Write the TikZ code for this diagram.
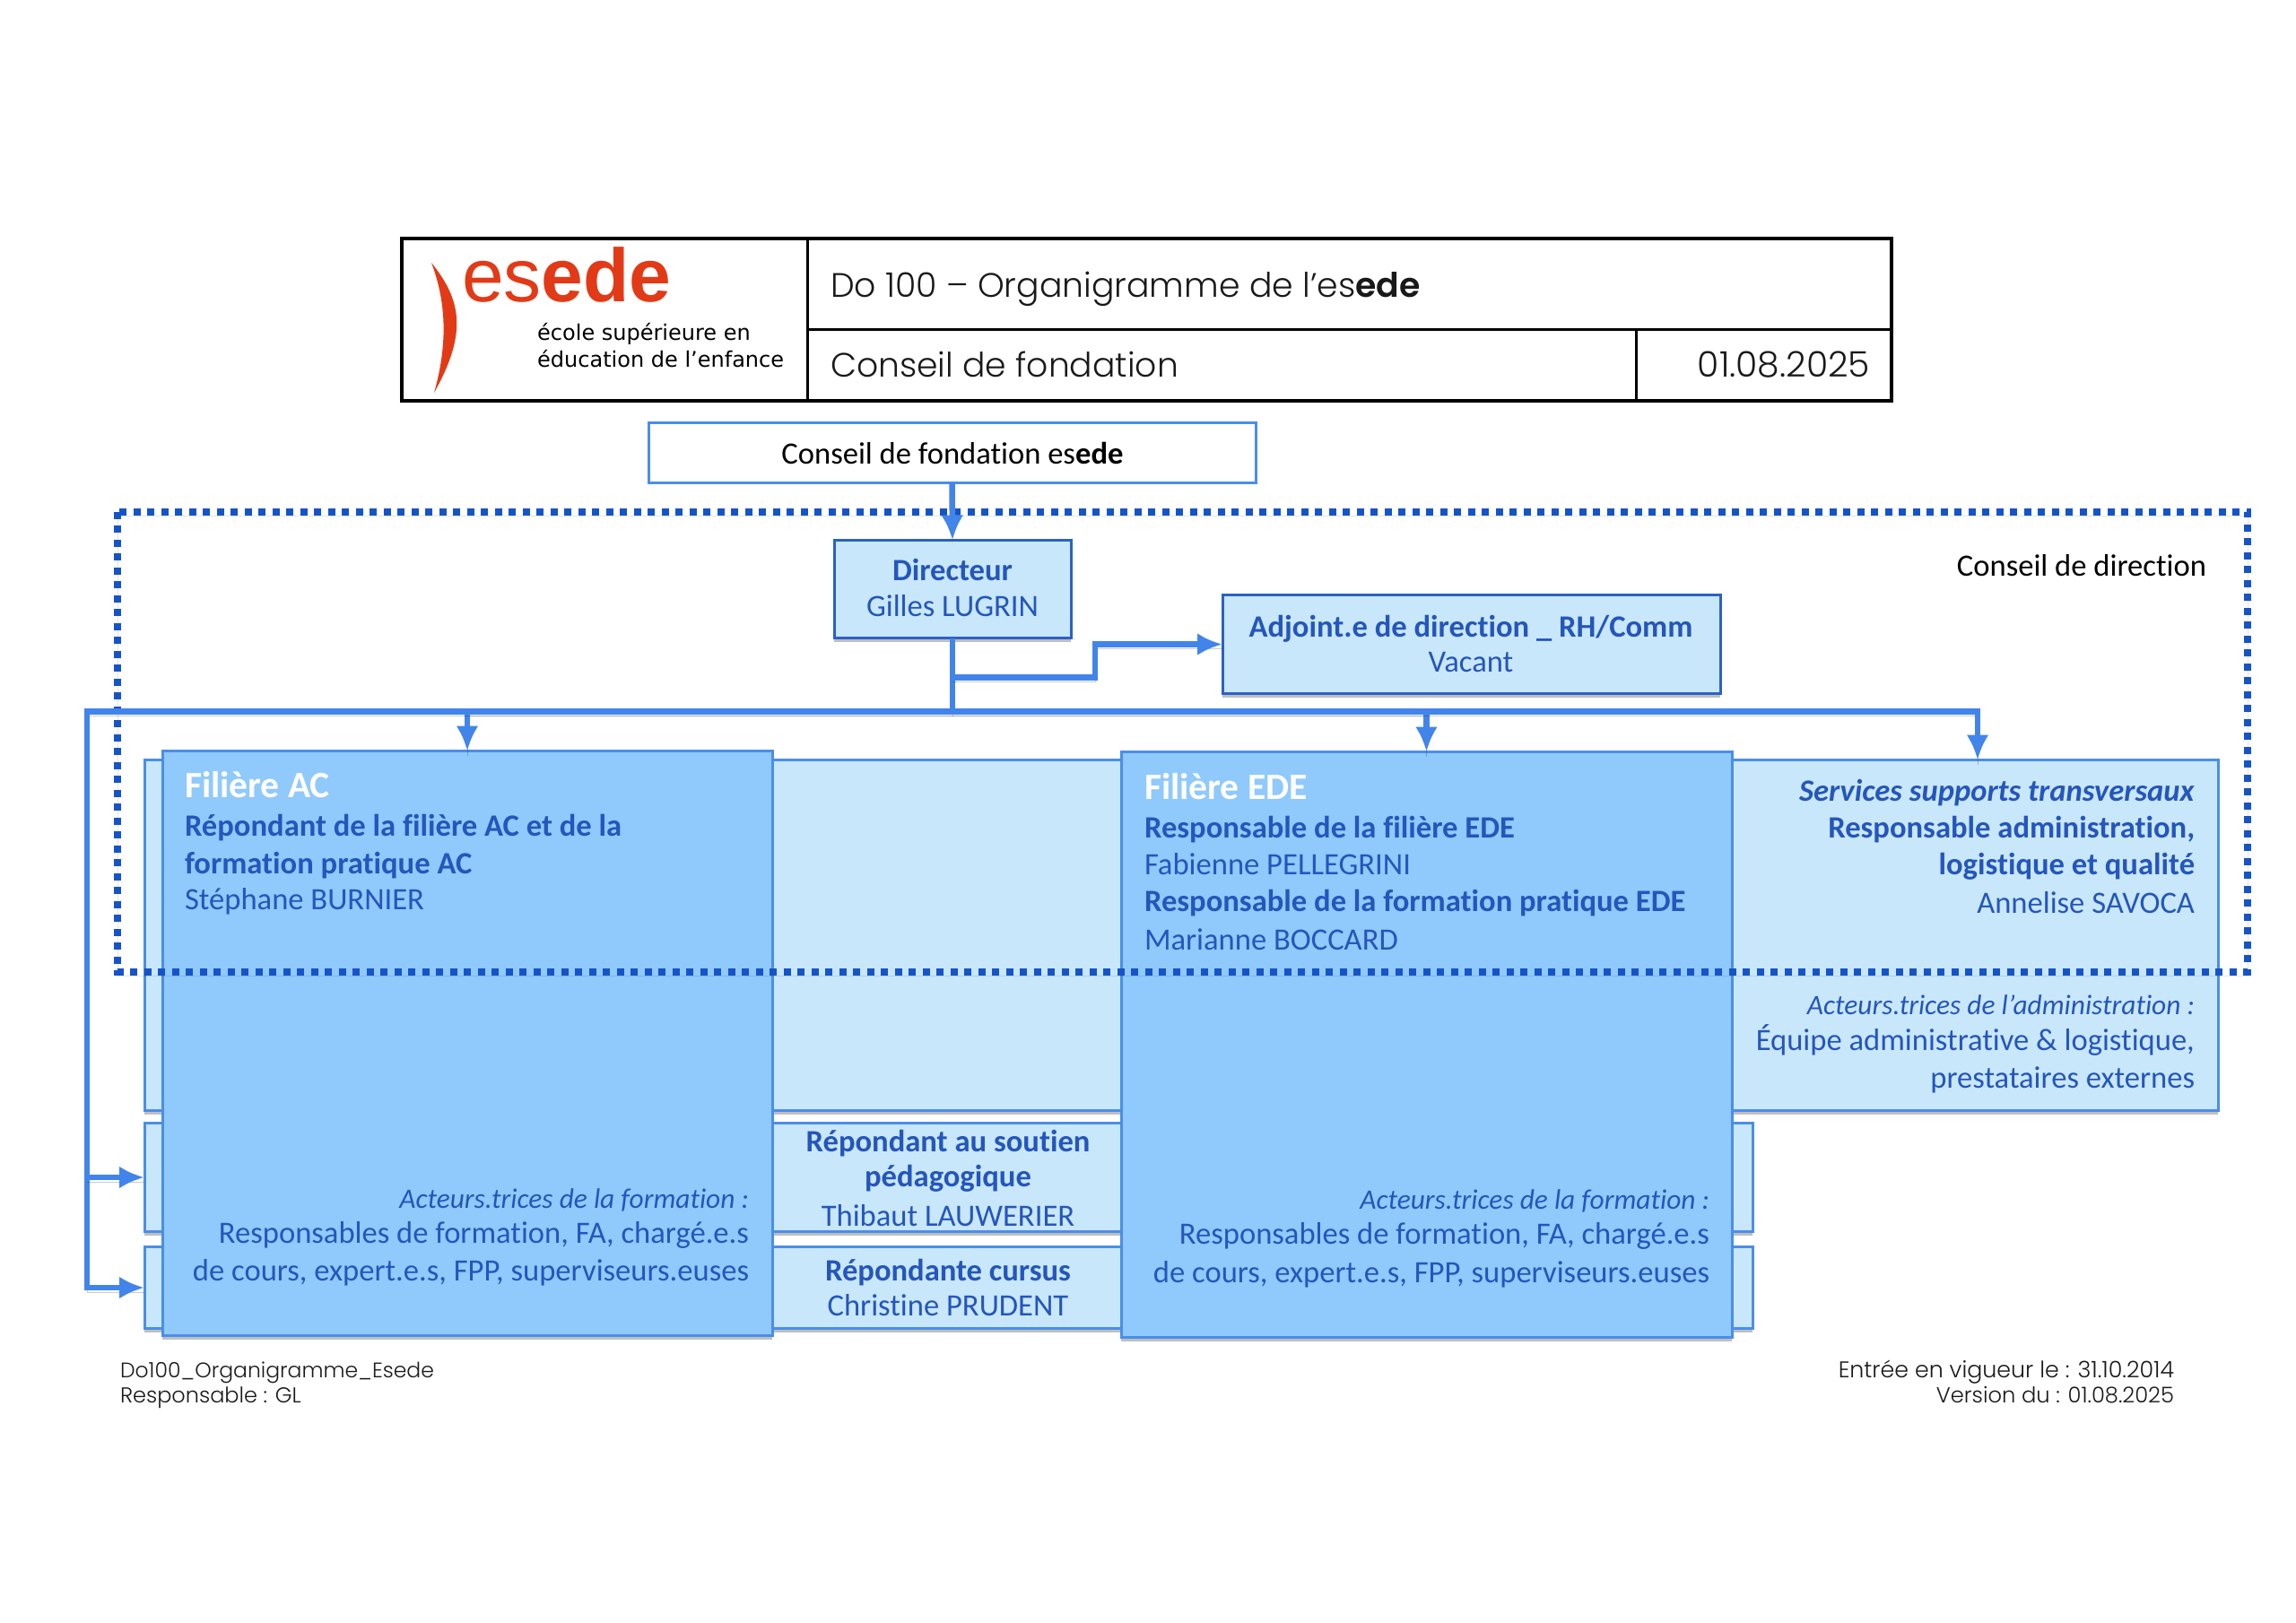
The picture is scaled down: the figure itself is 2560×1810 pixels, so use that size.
\documentclass[tikz,border=0pt]{standalone}
\usepackage{fontspec}
\usetikzlibrary{arrows.meta,shadows}
\setmainfont{Carlito}[Ligatures=NoCommon]
\newfontfamily\geo{Poppins Light}[BoldFont={Poppins SemiBold}]
\newfontfamily\logofont{Liberation Sans}
\newfontfamily\logosub{DejaVu Sans}
\definecolor{linkblue}{HTML}{4285EA}
\definecolor{edgeblue}{HTML}{4A8EEA}
\definecolor{darkedge}{HTML}{2A62C4}
\definecolor{dotblue}{HTML}{1554C8}
\definecolor{paleblue}{HTML}{C9E7FB}
\definecolor{midblue}{HTML}{90C9FB}
\definecolor{inkblue}{HTML}{2456BC}
\definecolor{logored}{HTML}{E23A17}
\newcommand\bodysize{\fontsize{34.6}{40}\selectfont}
\newcommand\notesize{\fontsize{31.4}{37}\selectfont}
\tikzset{
  softshadow/.style={drop shadow={shadow xshift=0pt,shadow yshift=-4pt,opacity=.25,fill=black}},
  backbox/.style={draw=edgeblue,line width=3pt,fill=paleblue,inner sep=0,outer sep=0,anchor=north west,softshadow},
  frontbox/.style={draw=edgeblue,line width=3pt,fill=midblue,inner sep=0,outer sep=0,anchor=north west,softshadow},
  rolebox/.style={draw=darkedge,line width=3pt,fill=paleblue,inner sep=0,outer sep=0,anchor=north west,softshadow},
  blackframe/.style={draw=black,line width=4.5pt},
  framerule/.style={draw=black,line width=3pt},
  txt/.style={inner sep=0,outer sep=0,font=\bodysize,text=inkblue},
  leftline/.style={txt,anchor=base west},
  rightline/.style={txt,anchor=base east},
  noteline/.style={txt,anchor=base east,font=\notesize\itshape},
  midline/.style={txt,anchor=base},
  headline/.style={inner sep=0,outer sep=0,anchor=base west,font=\fontsize{41.5}{46}\selectfont\bfseries,text=white},
  geotext/.style={inner sep=0,outer sep=0,text=black!90},
  link/.style={draw=linkblue,line width=6.5pt,preaction={draw=black,draw opacity=.2,arrows=-,transform canvas={yshift=-5pt}}},
  tip/.style={-{Latex[length=28pt,width=25pt]}},
}
\begin{document}
\begin{tikzpicture}[x=1pt,y=-1pt]
\useasboundingbox (0,0) rectangle (2560,1810);
\fill[white] (0,0) rectangle (2560,1810);
% title block
\coordinate (tl) at (448,266);
\coordinate (br) at (2109,447);
\draw[framerule] (900,266) coordinate (va) -- (900,447) coordinate (vb);
\draw[framerule] (900,367) coordinate (ha) -- (2109,367) coordinate (hb);
\draw[framerule] (1824,367) coordinate (vc) -- (1824,447) coordinate (vd);
\draw[blackframe] (tl) rectangle (br);
% logo
\fill[logored] (481,293) .. controls (515,335) and (521,372) .. (484,438) .. controls (500,382) and (497,335) .. cycle;
\node[inner sep=0,anchor=base west,text=logored,font=\logofont\fontsize{84}{90}\selectfont] (logo) at (515,336) {es\textbf{ede}};
\node[inner sep=0,anchor=base west,text=black,font=\logosub\fontsize{24}{26}\selectfont] (logoa) at (599,379) {école supérieure en};
\node[inner sep=0,anchor=base west,text=black,font=\logosub\fontsize{24}{26}\selectfont] (logob) at (599,409) {éducation de l’enfance};
\node[geotext,anchor=base west,font=\geo\fontsize{37.8}{44}\selectfont] (title) at (926,331) {Do 100 – Organigramme de l’es\textbf{ede}};
\node[geotext,anchor=base west,font=\geo\fontsize{37.7}{44}\selectfont] (sub) at (926,420) {Conseil de fondation};
\node[geotext,anchor=base east,font=\geo\fontsize{39.3}{44}\selectfont] (date) at (2085,420) {01.08.2025};
\begin{scope}[yshift=-1.5pt]
% boxes
\node[backbox,minimum width=2312pt,minimum height=391pt] (back) at (161,846) {};
\node[backbox,minimum width=1793pt,minimum height=121pt] (row2) at (161,1251) {};
\node[backbox,minimum width=1793pt,minimum height=91pt] (row3) at (161,1389) {};
\node[frontbox,minimum width=680pt,minimum height=652pt] (ac) at (181,836) {};
\node[frontbox,minimum width=681pt,minimum height=653pt] (ede) at (1250,837) {};
\node[draw=edgeblue,line width=3pt,fill=white,inner sep=0,outer sep=0,anchor=north west,minimum width=677pt,minimum height=67pt] (fond) at (723,470) {};
\node[rolebox,minimum width=264pt,minimum height=109pt] (dir) at (930,601) {};
\node[rolebox,minimum width=555pt,minimum height=110pt] (adj) at (1363,662) {};
\coordinate (svc) at (2205,846);
% dotted frame
\draw[dotblue,line width=8pt,dash pattern=on 8pt off 7.5pt,preaction={draw=black,draw opacity=.10,transform canvas={yshift=-5pt}}] (131,569) coordinate (d1) rectangle (2506,1082) coordinate (d2);
% connectors
\coordinate (jn) at (1062,792);
\coordinate (jb) at (1062,754);
\coordinate (bend) at (1221,717);
\coordinate (lft) at (97,792);
\draw[link,tip] (fond.south) -- (dir.north);
\draw[link] (dir.south) -- (jn);
\draw[link,tip] (jb) -| (bend) -- (adj.west);
\draw[link,tip] (jn) -| (ac.north);
\draw[link,tip] (jn) -| (ede.north);
\draw[link,tip] (jn) -| (svc);
\draw[link,tip] (jn) -- (lft) |- (row3.west);
\draw[link,tip] (lft |- row2.west) -- (row2.west);
% texts
\node[midline,text=black] (t0) at (1062,516) {Conseil de fondation es\textbf{ede}};
\node[midline] (t1) at (1062,646) {\textbf{Directeur}};
\node[midline] (t2) at (1062,686) {Gilles LUGRIN};
\node[midline] (t3) at (1640,709) {\textbf{Adjoint.e de direction \_ RH/Comm}};
\node[midline] (t4) at (1640,748) {Vacant};
\node[rightline,text=black] (t5) at (2460,641) {Conseil de direction};
\node[headline] (a0) at (206,888) {Filière AC};
\node[leftline] (a1) at (206,931) {\textbf{Répondant de la filière AC et de la}};
\node[leftline] (a2) at (206,973) {\textbf{formation pratique AC}};
\node[leftline] (a3) at (206,1013) {Stéphane BURNIER};
\node[noteline] (a4) at (835,1346) {Acteurs.trices de la formation :};
\node[rightline] (a5) at (835,1385) {Responsables de formation, FA, chargé.e.s};
\node[rightline] (a6) at (835,1427) {de cours, expert.e.s, FPP, superviseurs.euses};
\node[midline] (m1) at (1057,1283) {\textbf{Répondant au soutien}};
\node[midline] (m2) at (1057,1322) {\textbf{pédagogique}};
\node[midline] (m3) at (1057,1366) {Thibaut LAUWERIER};
\node[midline] (m4) at (1057,1427) {\textbf{Répondante cursus}};
\node[midline] (m5) at (1057,1466) {Christine PRUDENT};
\node[headline] (e0) at (1276,890) {Filière EDE};
\node[leftline] (e1) at (1276,933) {\textbf{Responsable de la filière EDE}};
\node[leftline] (e2) at (1276,974) {Fabienne PELLEGRINI};
\node[leftline] (e3) at (1276,1015) {\textbf{Responsable de la formation pratique EDE}};
\node[leftline] (e4) at (1276,1058) {Marianne BOCCARD};
\node[noteline] (e5) at (1906,1347) {Acteurs.trices de la formation :};
\node[rightline] (e6) at (1906,1386) {Responsables de formation, FA, chargé.e.s};
\node[rightline] (e7) at (1906,1429) {de cours, expert.e.s, FPP, superviseurs.euses};
\node[rightline] (s1) at (2447,892) {\textbf{\textit{Services supports transversaux}}};
\node[rightline] (s2) at (2447,933) {\textbf{Responsable administration,}};
\node[rightline] (s3) at (2447,974) {\textbf{logistique et qualité}};
\node[rightline] (s4) at (2447,1017) {Annelise SAVOCA};
\node[noteline] (s5) at (2447,1130) {Acteurs.trices de l’administration :};
\node[rightline] (s6) at (2447,1170) {Équipe administrative \& logistique,};
\node[rightline] (s7) at (2447,1212) {prestataires externes};
\node[geotext,anchor=base west,font=\geo\fontsize{23.5}{28}\selectfont] (f1) at (134,1535) {Do100\_Organigramme\_Esede};
\node[geotext,anchor=base west,font=\geo\fontsize{24}{28}\selectfont] (f2) at (134,1563) {Responsable : GL};
\node[geotext,anchor=base east,font=\geo\fontsize{25.3}{28}\selectfont] (f3) at (2424,1535) {Entrée en vigueur le : 31.10.2014};
\node[geotext,anchor=base east,font=\geo\fontsize{24.2}{28}\selectfont] (f4) at (2424,1563) {Version du : 01.08.2025};
\end{scope}
\end{tikzpicture}
\end{document}
